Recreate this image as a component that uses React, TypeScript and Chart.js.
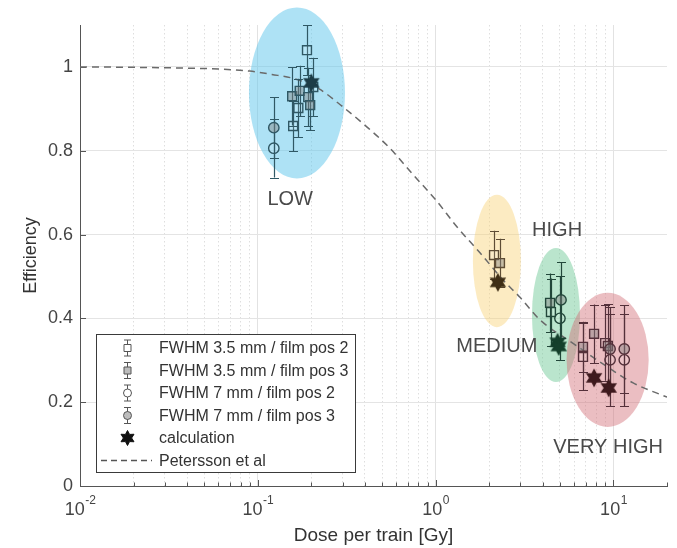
import React, { useEffect, useRef } from 'react';
import { Chart, registerables } from 'chart.js';

Chart.register(...registerables);

const FONT = '"Liberation Sans", Arial, Helvetica, sans-serif';

// ---------- cluster metadata ----------
const clusterNames = ['LOW', 'MEDIUM', 'HIGH', 'VERY HIGH'];
const clusterEllipseColor = [
  'rgba(100,200,235,0.52)',
  'rgba(248,210,120,0.45)',
  'rgba(110,200,150,0.48)',
  'rgba(210,110,120,0.45)',
];
const clusterEdge = ['#2f5865', '#5e4d35', '#22473a', '#54303a'];
const clusterStar = ['#1d3c47', '#3f2f16', '#15402c', '#3e1a1e'];

// ellipse annotations (data coordinates: centre dose, centre efficiency, half width in decades, half height)
const ellDose = [0.166, 2.21, 4.75, 9.27];
const ellEff = [0.938, 0.537, 0.408, 0.301];
const ellHalfDecades = [0.27, 0.135, 0.135, 0.231];
const ellHalfEff = [0.204, 0.158, 0.16, 0.16];

// cluster label annotations
const labelDose = [0.152, 2.21, 4.82, 9.33];
const labelEff = [0.683, 0.332, 0.609, 0.091];

// ---------- FWHM 3.5 mm / film pos 2 (open squares) ----------
const sq2Dose = [0.189, 0.169, 0.158, 0.205, 2.13, 4.45, 6.74, 8.98];
const sq2Eff = [1.04, 0.902, 0.859, 0.952, 0.551, 0.415, 0.308, 0.341];
const sq2Err = [0.06, 0.07, 0.06, 0.07, 0.058, 0.08, 0.08, 0.09];
const sq2Group = [0, 0, 0, 0, 1, 2, 3, 3];

// ---------- FWHM 3.5 mm / film pos 3 (filled squares) ----------
const sq3Dose = [0.156, 0.172, 0.192, 0.197, 2.3, 4.4, 6.74, 7.78, 9.3];
const sq3Eff = [0.93, 0.943, 0.928, 0.909, 0.532, 0.437, 0.332, 0.363, 0.334];
const sq3Err = [0.07, 0.06, 0.07, 0.06, 0.058, 0.07, 0.06, 0.07, 0.1];
const sq3Group = [0, 0, 0, 0, 1, 2, 3, 3, 3];

// ---------- FWHM 7 mm / film pos 2 (open circles) ----------
const c2Dose = [0.123, 5.0, 9.57, 11.5];
const c2Eff = [0.806, 0.4, 0.301, 0.301];
const c2Err = [0.07, 0.1, 0.11, 0.11];
const c2Group = [0, 2, 3, 3];

// ---------- FWHM 7 mm / film pos 3 (filled circles) ----------
const c3Dose = [0.123, 5.07, 9.57, 11.5];
const c3Eff = [0.855, 0.444, 0.327, 0.327];
const c3Err = [0.073, 0.09, 0.1, 0.105];
const c3Group = [0, 2, 3, 3];

// ---------- calculation (stars) ----------
const calcDose = [0.2, 2.24, 4.85, 4.92, 7.78, 9.4];
const calcEff = [0.962, 0.486, 0.343, 0.333, 0.258, 0.234];
const calcGroup = [0, 1, 2, 2, 3, 3];

// ---------- Petersson et al curve ----------
const petDose = [0.01, 0.02, 0.04, 0.06, 0.09, 0.12, 0.16, 0.22, 0.3, 0.41, 0.55, 0.75, 1.0, 1.32, 1.78, 2.39, 3.0, 3.87, 5.9, 8.4, 12.9, 20];
const petEff = [1.0, 0.999, 0.997, 0.995, 0.99, 0.982, 0.972, 0.948, 0.905, 0.857, 0.807, 0.742, 0.683, 0.618, 0.556, 0.492, 0.449, 0.396, 0.341, 0.296, 0.246, 0.212];

// ---------- ticks ----------
const xDecades = [0.01, 0.1, 1, 10];
const xDecadeExp = ['-2', '-1', '0', '1'];
const xMinorMult = [1, 2, 3, 4, 5, 6, 7, 8, 9];
const yTickValues = [0, 0.2, 0.4, 0.6, 0.8, 1];
const yTickLabels = ['0', '0.2', '0.4', '0.6', '0.8', '1'];

const legendLabels = [
  'FWHM 3.5 mm / film pos 2',
  'FWHM 3.5 mm / film pos 3',
  'FWHM 7 mm / film pos 2',
  'FWHM 7 mm / film pos 3',
  'calculation',
  'Petersson et al',
];

const isDecade = (v: number) => Math.abs(Math.log10(v) - Math.round(Math.log10(v))) < 1e-6;

function starPath(ctx: CanvasRenderingContext2D, cx: number, cy: number, r: number) {
  ctx.beginPath();
  for (let k = 0; k < 12; k++) {
    const a = -Math.PI / 2 + (k * Math.PI) / 6;
    const rr = k % 2 === 0 ? r : r * 0.55;
    const px = cx + rr * Math.cos(a);
    const py = cy + rr * Math.sin(a);
    if (k === 0) ctx.moveTo(px, py);
    else ctx.lineTo(px, py);
  }
  ctx.closePath();
}

function makeStar(color: string, r: number) {
  const c = document.createElement('canvas');
  const s = Math.ceil(r * 2 + 4);
  c.width = s;
  c.height = s;
  const g = c.getContext('2d')!;
  g.fillStyle = color;
  g.strokeStyle = color;
  g.lineWidth = 1.4;
  starPath(g, s / 2, s / 2, r);
  g.fill();
  g.stroke();
  return c;
}

function errSeries(label: string, dose: number[], eff: number[], err: number[], group: number[], style: string, filled: boolean, order: number) {
  return {
    type: 'scatter',
    label,
    data: dose.map((x, i) => ({ x, y: eff[i], err: err[i], g: group[i] })),
    pointStyle: style,
    pointRadius: style === 'rect' ? 6.3 : 5.2,
    pointBackgroundColor: group.map(() => (filled ? 'rgba(130,130,130,0.45)' : 'rgba(255,255,255,0.12)')),
    pointBorderColor: group.map((g) => clusterEdge[g]),
    pointBorderWidth: 1.4,
    showLine: false,
    order,
    errorBars: true,
  };
}

const errorBarPlugin = {
  id: 'errorBars',
  beforeDatasetDraw(chart: any, args: any) {
    const ds = chart.data.datasets[args.index];
    if (!ds.errorBars) return;
    const y = chart.scales.y;
    const ctx = chart.ctx;
    ctx.save();
    ctx.lineWidth = 1.2;
    args.meta.data.forEach((pt: any, i: number) => {
      const raw = ds.data[i];
      const top = y.getPixelForValue(raw.y + raw.err);
      const bot = y.getPixelForValue(raw.y - raw.err);
      const x = Math.round(pt.x) + 0.5;
      ctx.strokeStyle = clusterEdge[raw.g];
      ctx.beginPath();
      ctx.moveTo(x, top);
      ctx.lineTo(x, bot);
      ctx.moveTo(x - 4.5, Math.round(top) + 0.5);
      ctx.lineTo(x + 4.5, Math.round(top) + 0.5);
      ctx.moveTo(x - 4.5, Math.round(bot) + 0.5);
      ctx.lineTo(x + 4.5, Math.round(bot) + 0.5);
      ctx.stroke();
    });
    ctx.restore();
  },
};

const decorPlugin = {
  id: 'decor',
  beforeDatasetsDraw(chart: any) {
    const { ctx, scales, chartArea } = chart;
    const xs = scales.x;
    const ys = scales.y;
    ctx.save();
    // ellipses
    for (let i = 0; i < ellDose.length; i++) {
      const cx = xs.getPixelForValue(ellDose[i]);
      const rx = xs.getPixelForValue(ellDose[i] * Math.pow(10, ellHalfDecades[i])) - cx;
      const cy = ys.getPixelForValue(ellEff[i]);
      const ry = Math.abs(ys.getPixelForValue(ellEff[i] + ellHalfEff[i]) - cy);
      ctx.fillStyle = clusterEllipseColor[i];
      ctx.beginPath();
      ctx.ellipse(cx, cy, rx, ry, 0, 0, Math.PI * 2);
      ctx.fill();
    }
    // cluster labels
    ctx.fillStyle = '#4a4a4a';
    ctx.font = `20px ${FONT}`;
    ctx.textAlign = 'center';
    ctx.textBaseline = 'middle';
    for (let i = 0; i < clusterNames.length; i++) {
      ctx.fillText(clusterNames[i], xs.getPixelForValue(labelDose[i]), ys.getPixelForValue(labelEff[i]));
    }
    // inward ticks
    ctx.strokeStyle = '#555';
    ctx.lineWidth = 1;
    ctx.beginPath();
    for (const d of xDecades) {
      for (const m of xMinorMult) {
        const v = d * m;
        if (v > 20) continue;
        const px = Math.round(xs.getPixelForValue(v)) + 0.5;
        const len = m === 1 ? 6 : 3.5;
        ctx.moveTo(px, chartArea.bottom);
        ctx.lineTo(px, chartArea.bottom - len);
      }
    }
    for (const v of yTickValues) {
      const py = Math.round(ys.getPixelForValue(v)) + 0.5;
      ctx.moveTo(chartArea.left, py);
      ctx.lineTo(chartArea.left + 6, py);
    }
    ctx.stroke();
    // x tick labels with superscripts
    ctx.fillStyle = '#444';
    ctx.textAlign = 'left';
    for (let i = 0; i < xDecades.length; i++) {
      const px = xs.getPixelForValue(xDecades[i]);
      ctx.font = `18px ${FONT}`;
      const w1 = ctx.measureText('10').width;
      ctx.font = `12px ${FONT}`;
      const w2 = ctx.measureText(xDecadeExp[i]).width;
      const start = px - (w1 + w2) / 2;
      ctx.font = `18px ${FONT}`;
      ctx.fillText('10', start, 510);
      ctx.font = `12px ${FONT}`;
      ctx.fillText(xDecadeExp[i], start + w1 + 0.5, 501);
    }
    ctx.restore();
  },
  afterDraw(chart: any) {
    const ctx = chart.ctx;
    ctx.save();
    const bx = 96.5, by = 334.5, bw = 259, bh = 138;
    ctx.fillStyle = '#fff';
    ctx.fillRect(bx, by, bw, bh);
    ctx.strokeStyle = '#3a3a3a';
    ctx.lineWidth = 1;
    ctx.strokeRect(bx, by, bw, bh);
    const mx = 127.5;
    const rowY = (k: number) => 348 + k * 22.5;
    ctx.font = `16px ${FONT}`;
    ctx.textBaseline = 'middle';
    ctx.textAlign = 'left';
    for (let k = 0; k < legendLabels.length; k++) {
      const cy = rowY(k);
      ctx.strokeStyle = '#555';
      ctx.fillStyle = '#555';
      ctx.lineWidth = 1;
      if (k < 4) {
        ctx.beginPath();
        ctx.moveTo(mx, cy - 8);
        ctx.lineTo(mx, cy + 8);
        ctx.moveTo(mx - 3.5, cy - 8);
        ctx.lineTo(mx + 3.5, cy - 8);
        ctx.moveTo(mx - 3.5, cy + 8);
        ctx.lineTo(mx + 3.5, cy + 8);
        ctx.stroke();
        ctx.fillStyle = k % 2 === 0 ? '#fff' : '#bdbdbd';
        ctx.beginPath();
        if (k < 2) ctx.rect(mx - 3.5, cy - 3.5, 7, 7);
        else ctx.arc(mx, cy, 4, 0, Math.PI * 2);
        ctx.fill();
        ctx.stroke();
      } else if (k === 4) {
        ctx.fillStyle = '#111';
        ctx.strokeStyle = '#111';
        starPath(ctx, mx, cy, 7.5);
        ctx.fill();
        ctx.stroke();
      } else {
        ctx.setLineDash([6, 4]);
        ctx.lineWidth = 1.3;
        ctx.beginPath();
        ctx.moveTo(101, cy);
        ctx.lineTo(152, cy);
        ctx.stroke();
        ctx.setLineDash([]);
      }
      ctx.fillStyle = '#333';
      ctx.fillText(legendLabels[k], 159, cy + 1);
    }
    ctx.restore();
  },
};

export default function App() {
  const ref = useRef<HTMLCanvasElement>(null);
  useEffect(() => {
    const canvas = ref.current;
    if (!canvas) return;
    const stars = calcGroup.map((g) => makeStar(clusterStar[g], 8));
    const chart = new Chart(canvas, {
      type: 'scatter',
      data: {
        datasets: [
          {
            type: 'scatter',
            label: 'calculation',
            data: calcDose.map((x, i) => ({ x, y: calcEff[i] })),
            pointStyle: stars as any,
            pointRadius: 8,
            showLine: false,
            order: 0,
          } as any,
          errSeries('FWHM 7 mm / film pos 3', c3Dose, c3Eff, c3Err, c3Group, 'circle', true, 1),
          errSeries('FWHM 7 mm / film pos 2', c2Dose, c2Eff, c2Err, c2Group, 'circle', false, 2),
          errSeries('FWHM 3.5 mm / film pos 3', sq3Dose, sq3Eff, sq3Err, sq3Group, 'rect', true, 3),
          errSeries('FWHM 3.5 mm / film pos 2', sq2Dose, sq2Eff, sq2Err, sq2Group, 'rect', false, 4),
          {
            type: 'line',
            label: 'Petersson et al',
            data: petDose.map((x, i) => ({ x, y: petEff[i] })),
            borderColor: '#6a6a6a',
            borderWidth: 1.5,
            borderDash: [7, 5],
            pointRadius: 0,
            cubicInterpolationMode: 'monotone',
            fill: false,
            order: 5,
          } as any,
        ] as any,
      },
      options: {
        responsive: false,
        animation: false,
        devicePixelRatio: 1,
        layout: { padding: { top: 25, right: 10, left: 0, bottom: 0 } },
        plugins: { legend: { display: false }, tooltip: { enabled: false } },
        scales: {
          x: {
            type: 'logarithmic',
            min: 0.01,
            max: 20,
            bounds: 'data',
            afterFit: (s: any) => {
              s.height = 62;
            },
            afterBuildTicks: (s: any) => {
              const t: any[] = [];
              for (const d of xDecades) for (const m of xMinorMult) if (d * m < 19.5) t.push({ value: d * m, major: m === 1 });
              s.ticks = t;
            },
            ticks: { display: false, autoSkip: false },
            grid: {
              drawTicks: false,
              lineWidth: 1,
              color: (c: any) => (c.tick && isDecade(c.tick.value) ? '#e2e2e2' : '#dedede'),
            },
            border: {
              color: '#555',
              width: 1,
              dash: (c: any) => (c.tick && !isDecade(c.tick.value) ? [1.5, 2.5] : []),
            },
            title: {
              display: true,
              text: 'Dose per train [Gy]',
              color: '#333',
              font: { family: FONT, size: 19 },
              padding: { top: 0, bottom: 1 },
            },
          },
          y: {
            type: 'linear',
            min: 0,
            max: 1.1,
            afterFit: (s: any) => {
              s.width = 80;
            },
            afterBuildTicks: (s: any) => {
              s.ticks = yTickValues.map((v) => ({ value: v }));
            },
            ticks: {
              color: '#444',
              font: { family: FONT, size: 18 },
              padding: 7,
              callback: (v: any) => {
                const i = yTickValues.findIndex((t) => Math.abs(t - v) < 1e-6);
                return i >= 0 ? yTickLabels[i] : '';
              },
            },
            grid: { drawTicks: false, color: '#e4e4e4', lineWidth: 1 },
            border: { color: '#555', width: 1 },
            title: {
              display: true,
              text: 'Efficiency',
              color: '#333',
              font: { family: FONT, size: 18 },
              padding: { top: 20, bottom: 0 },
            },
          },
        },
      } as any,
      plugins: [errorBarPlugin, decorPlugin],
    });
    return () => chart.destroy();
  }, []);
  return (
    <div style={{ position: 'fixed', left: 0, top: 0, width: 677, height: 548, background: '#fff' }}>
      <canvas ref={ref} width={677} height={548} style={{ display: 'block' }} />
    </div>
  );
}
